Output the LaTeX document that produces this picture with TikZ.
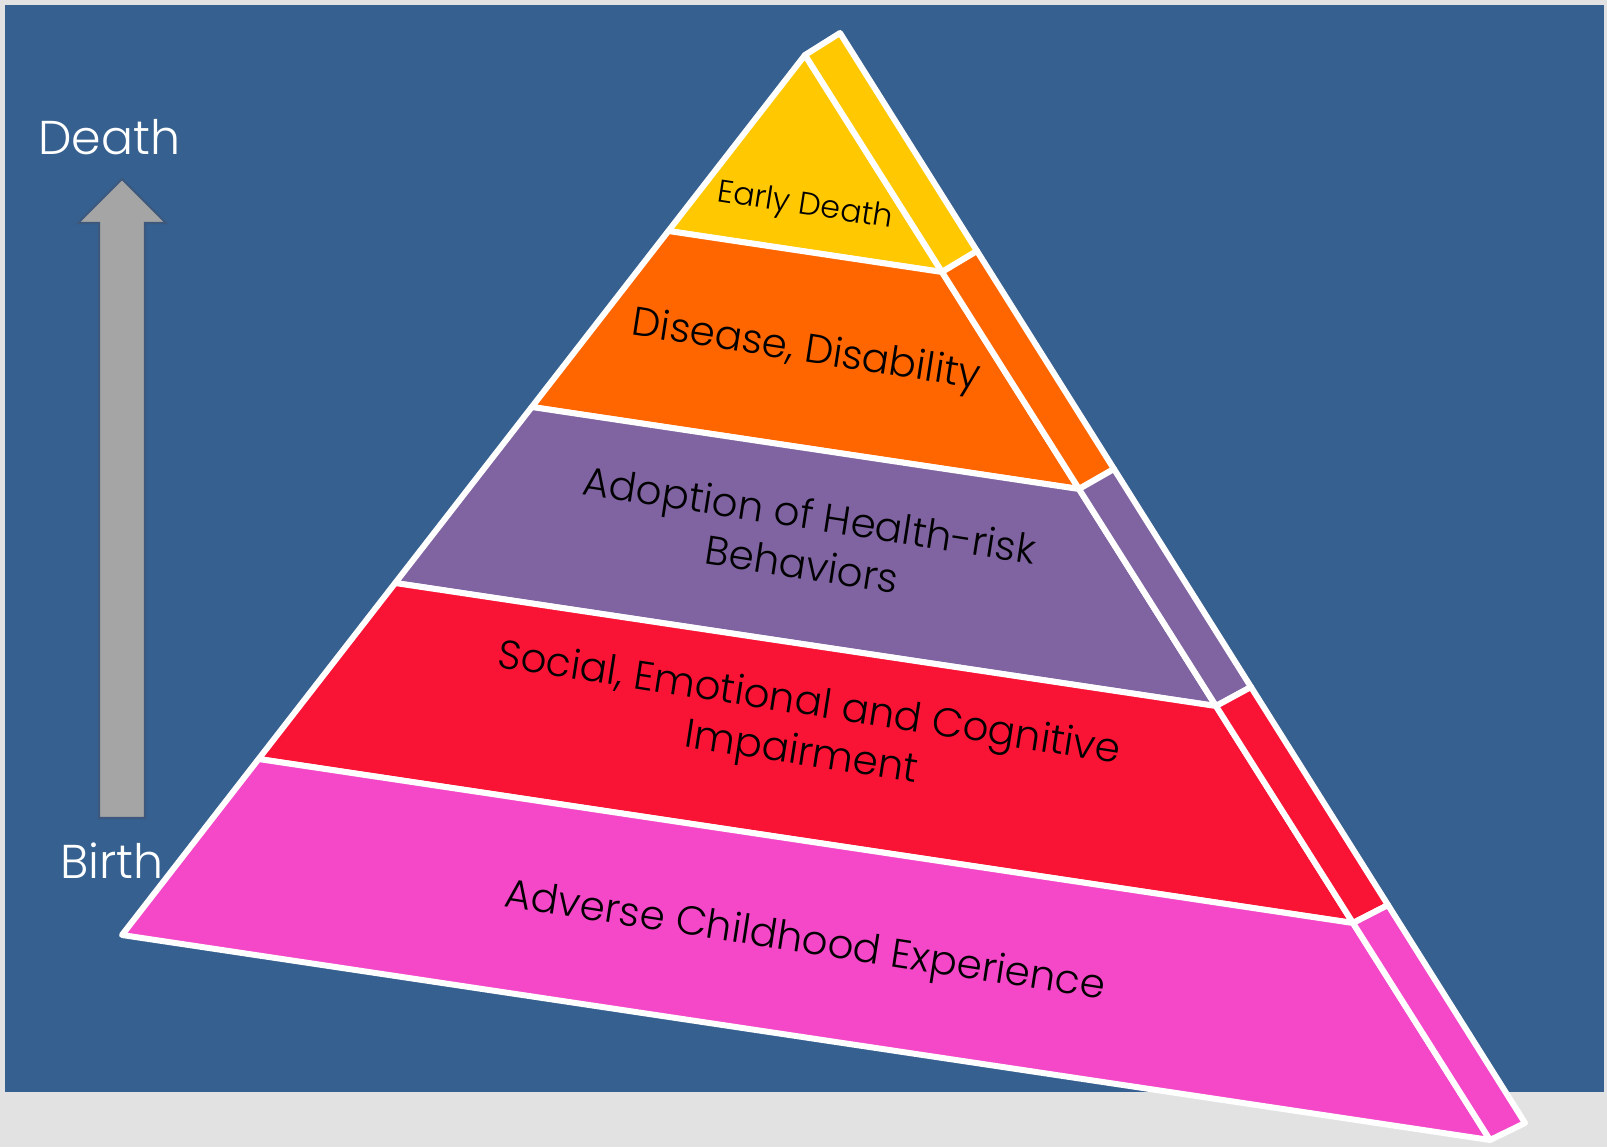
\documentclass[tikz,border=0pt]{standalone}
\usepackage{fontspec}
\setmainfont{Poppins Light}
\usetikzlibrary{calc}
\definecolor{fond}{RGB}{226,226,226}
\definecolor{bleufond}{RGB}{54,96,143}
\definecolor{bleuombre}{RGB}{60,88,125}
\definecolor{grisfleche}{RGB}{165,165,165}
\definecolor{jauneP}{RGB}{255,200,0}
\definecolor{orangeP}{RGB}{255,102,0}
\definecolor{violetP}{RGB}{128,100,162}
\definecolor{rougeP}{RGB}{249,20,54}
\definecolor{roseP}{RGB}{244,72,200}
\tikzstyle{bord}           =[draw=white, line width=3.4pt, line join=round]
\tikzstyle{etiquette}      =[text=black, rotate=-8.8, align=center, inner sep=0pt, font=\fontsize{23}{28.5}\selectfont]
\tikzstyle{repere}         =[text=white, anchor=base west, inner sep=0pt, font=\fontsize{27}{32}\selectfont]

\begin{document}
\begin{tikzpicture}[x=0.02cm,y=-0.02cm]

\useasboundingbox (0,0) rectangle (1607,1147);
\fill[fond] (0,0) rectangle (1607,1147);
\fill[bleufond] (5,5) rectangle (1604,1092);

%%%%%%%%%%%%%%%%%%%%%%%%
%Flèche de la naissance à la mort
%%%%%%%%%%%%%%%%%%%%%%%%

\def \xfleche {122}; %abscisse de l'axe de la flèche
\def \demilarg {23}; %demi-largeur du corps
\def \demitete {44}; %demi-largeur de la tête

\draw[bleuombre, line width=1.2pt, fill=grisfleche] (\xfleche-\demilarg,818) -- (\xfleche-\demilarg,223) -- (\xfleche-\demitete,223) -- (\xfleche,179)
  -- (\xfleche+\demitete,223) -- (\xfleche+\demilarg,223) -- (\xfleche+\demilarg,818) -- cycle;

%%%%%%%%%%%%%%%%%%%%%%%%
%Pyramide : face avant et face de côté
%%%%%%%%%%%%%%%%%%%%%%%%

\coordinate (A) at (805,55); %sommet de la face avant
\coordinate (L) at (122,935); %coin gauche
\coordinate (R) at (1490,1140); %coin droit
\coordinate (A2) at (840,33); %sommet de la face de côté
\coordinate (R2) at (1525,1123); %coin droit de la face de côté

\foreach \t/\u/\couleur in {0/0.2/jauneP,0.2/0.4/orangeP,0.4/0.6/violetP,0.6/0.8/rougeP,0.8/1/roseP}{
  %tranche avant
  \draw[bord, fill=\couleur] ($(A)!\t!(L)$) -- ($(A)!\u!(L)$) -- ($(A)!\u!(R)$) -- ($(A)!\t!(R)$) -- cycle;
  %tranche de côté
  \draw[bord, fill=\couleur] ($(A)!\t!(R)$) -- ($(A)!\u!(R)$) -- ($(A2)!\u!(R2)$) -- ($(A2)!\t!(R2)$) -- cycle;
}

%repères de la flèche
\node[repere] (mort) at (38,154) {Death};
\node[repere] (naissance) at (60,878) {Birth};

%textes des tranches
\node[etiquette, font=\fontsize{18}{21}\selectfont] (deces) at (805,207) {Early Death};
\node[etiquette] (maladie) at (806,352) {Disease, Disability};
\node[etiquette] (adoption) at (806,539) {Adoption of Health-risk\\Behaviors};
\node[etiquette] (social) at (805,730) {Social, Emotional and Cognitive\\Impairment};
\node[etiquette] (adverse) at (805,943) {Adverse Childhood Experience};

\end{tikzpicture}
\end{document}
